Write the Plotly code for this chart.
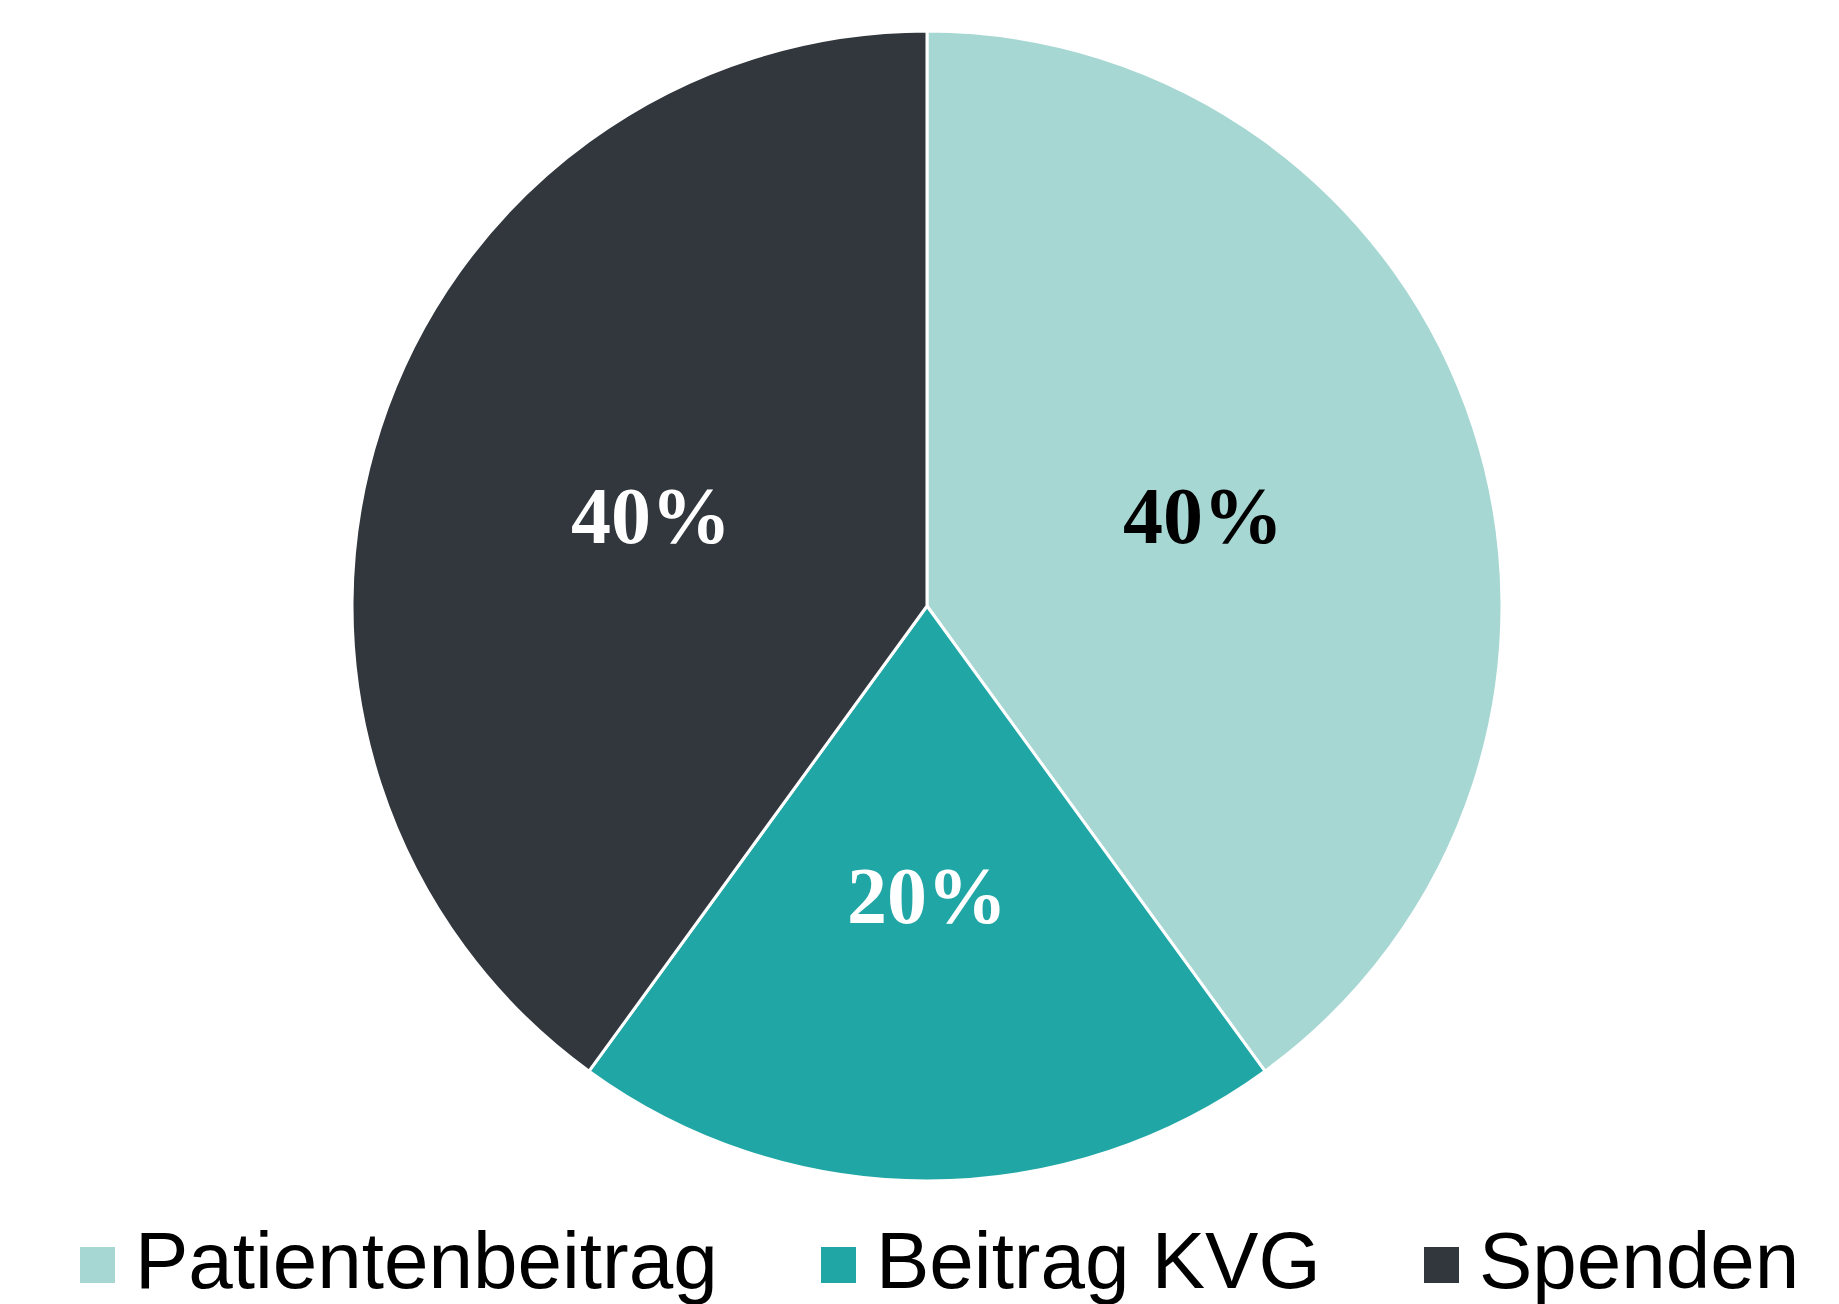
import math
import plotly.graph_objects as go

W, H = 1839, 1304
OFF = 8  # body margin of the html page

labels = ['Patientenbeitrag', 'Beitrag KVG', 'Spenden']
values = [40, 20, 40]
colors = ['#A6D7D3', '#21A6A6', '#31373D']
text_colors = ['black', 'white', 'white']

# legend item positions (px, left edge of the swatch)
legend_x = [80, 821, 1424]

# pie centre / radius in page pixels
CX, CY, R = 927, 606, 575


def px_x(x):
    return (x - OFF) / W


def px_y(y):
    return 1 - (y - OFF) / H


fig = go.Figure()

fig.add_trace(go.Pie(
    labels=labels,
    values=values,
    sort=False,
    direction='clockwise',
    rotation=0,
    marker=dict(colors=colors, line=dict(color='white', width=3)),
    textinfo='none',
    domain=dict(x=[px_x(CX - R), px_x(CX + R)],
                y=[px_y(CY + R), px_y(CY - R)]),
    showlegend=False,
    hoverinfo='label+percent',
))

# Prozent-Beschriftungen in der Mitte der Segmente
total = sum(values)
cum = 0
for v, tc in zip(values, text_colors):
    mid = (cum + v / 2) / total * 2 * math.pi
    cum += v
    tx = CX + 0.505 * R * math.sin(mid)
    ty = CY - 0.505 * R * math.cos(mid)
    fig.add_annotation(x=px_x(tx), y=px_y(ty), xref='paper', yref='paper',
                       text=f'{v / total:.0%}', showarrow=False,
                       xanchor='center', yanchor='middle',
                       font=dict(family='Liberation Serif, Times New Roman, serif',
                                 size=80, color=tc, weight='bold'))

# Legende (grosse Quadrate, daher von Hand)
for lab, col, x0 in zip(labels, colors, legend_x):
    fig.add_shape(type='rect', xref='paper', yref='paper',
                  x0=px_x(x0), x1=px_x(x0 + 35),
                  y0=px_y(1283), y1=px_y(1247),
                  fillcolor=col, line=dict(width=0))
    fig.add_annotation(x=px_x(x0 + 53), y=px_y(1260), xref='paper', yref='paper',
                       text=lab, showarrow=False, xanchor='left', yanchor='middle',
                       font=dict(family='Liberation Sans, Arial, sans-serif',
                                 size=80, color='black'))

fig.update_layout(
    width=W, height=H,
    margin=dict(l=0, r=0, t=0, b=0),
    paper_bgcolor='white',
    plot_bgcolor='white',
)

fig.write_html("out.html")
